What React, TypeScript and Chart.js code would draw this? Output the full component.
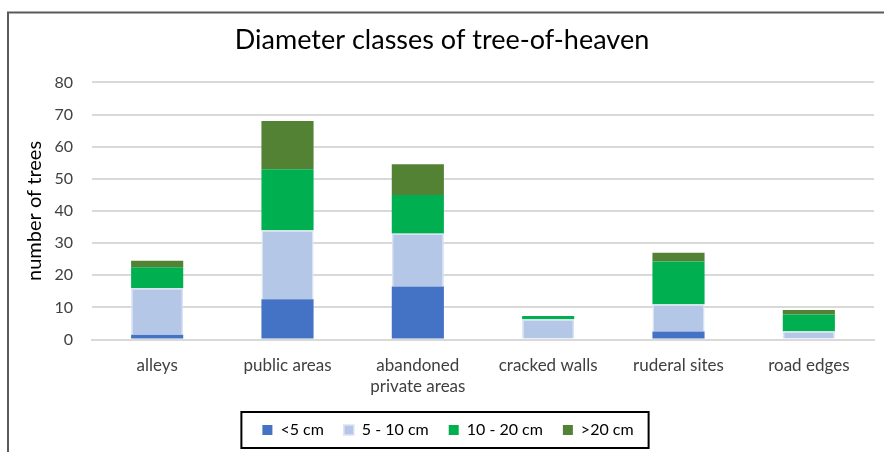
import React, { useEffect, useRef } from "react";
import { Chart, registerables } from "chart.js";

Chart.register(...registerables);

const categories: (string | string[])[] = [
  "alleys",
  "public areas",
  ["abandoned", "private areas"],
  "cracked walls",
  "ruderal sites",
  "road edges",
];
const seriesNames = ["<5 cm", "5 - 10 cm", "10 - 20 cm", ">20 cm"];
const under5 = [1.5, 12.5, 16.5, 0, 2.5, 0];
const from5to10 = [14.5, 21.5, 16.5, 6.3, 8.5, 2.6];
const from10to20 = [6.5, 19, 12, 1, 13.3, 5.2];
const over20 = [2, 15, 9.5, 0, 2.7, 1.4];
const yTicks = [0, 10, 20, 30, 40, 50, 60, 70, 80];

const FONT = "Lato, 'Open Sans', sans-serif";

const framePlugin = {
  id: "framePlugin",
  afterLayout(chart: any) {
    if (chart.legend) {
      chart.legend.left += 6;
      chart.legend.right += 6;
    }
  },
  afterDraw(chart: any) {
    const ctx = chart.ctx;
    ctx.save();
    ctx.strokeStyle = "#5a5a5a";
    ctx.lineWidth = 2;
    ctx.beginPath();
    ctx.moveTo(8, 452);
    ctx.lineTo(8, 12.5);
    ctx.lineTo(884, 12.5);
    ctx.stroke();
    const hb = chart.legend && chart.legend.legendHitBoxes;
    if (hb && hb.length) {
      const left = Math.min(...hb.map((h: any) => h.left));
      const right = Math.max(...hb.map((h: any) => h.left + h.width));
      const cy = hb[0].top + hb[0].height / 2;
      ctx.strokeStyle = "#000000";
      ctx.lineWidth = 2;
      ctx.strokeRect(left - 21, cy - 18, right - left + 36, 36);
    }
    ctx.restore();
  },
};

export default function App() {
  const ref = useRef<HTMLCanvasElement | null>(null);

  useEffect(() => {
    if (!ref.current) return;
    const chart = new Chart(ref.current, {
      type: "bar",
      data: {
        labels: categories,
        datasets: [
          { label: seriesNames[0], data: under5, backgroundColor: "#4472C4", borderWidth: 0 },
          {
            label: seriesNames[1],
            data: from5to10,
            backgroundColor: "#B4C7E7",
            borderColor: "#DAE3F3",
            borderWidth: 1.5,
          },
          { label: seriesNames[2], data: from10to20, backgroundColor: "#00B050", borderWidth: 0 },
          { label: seriesNames[3], data: over20, backgroundColor: "#548235", borderWidth: 0 },
        ],
      },
      options: {
        responsive: false,
        animation: false,
        devicePixelRatio: 1,
        datasets: { bar: { barPercentage: 0.4, categoryPercentage: 1 } },
        layout: { padding: { top: 12, left: 10, right: 10, bottom: 4 } },
        plugins: {
          title: {
            display: true,
            text: "Diameter classes of tree-of-heaven",
            color: "#000000",
            font: { family: FONT, size: 27, weight: "normal" },
            padding: { top: 12, bottom: 26 },
          },
          legend: {
            position: "bottom",
            labels: {
              boxWidth: 10,
              boxHeight: 10,
              padding: 20,
              color: "#000000",
              font: { family: FONT, size: 16 },
            },
          },
          tooltip: { enabled: false },
        },
        scales: {
          x: {
            stacked: true,
            grid: { display: false, drawTicks: false },
            border: { display: true, color: "#d9d9d9", width: 2 },
            ticks: {
              color: "#404040",
              padding: 15,
              maxRotation: 0,
              autoSkip: false,
              font: { family: FONT, size: 17, lineHeight: 1.25 },
            },
            afterFit(scale: any) {
              scale.height -= 10;
            },
          },
          y: {
            stacked: true,
            min: 0,
            max: 80,
            afterBuildTicks(scale: any) {
              scale.ticks = yTicks.map((v) => ({ value: v }));
            },
            grid: { color: "#d9d9d9", lineWidth: 2, drawTicks: false },
            border: { display: false },
            ticks: {
              color: "#404040",
              padding: 19,
              font: { family: FONT, size: 16 },
            },
            title: {
              display: true,
              text: "number of trees",
              color: "#000000",
              font: { family: FONT, size: 20 },
              padding: { top: 13, bottom: 0 },
            },
            afterFit(scale: any) {
              scale.width = 82;
            },
          },
        },
      },
      plugins: [framePlugin],
    });
    return () => chart.destroy();
  }, []);

  return (
    <div style={{ position: "fixed", left: 0, top: 0, width: 884, height: 452, background: "#fff" }}>
      <canvas ref={ref} width={884} height={452} style={{ width: 884, height: 452, display: "block" }} />
    </div>
  );
}
